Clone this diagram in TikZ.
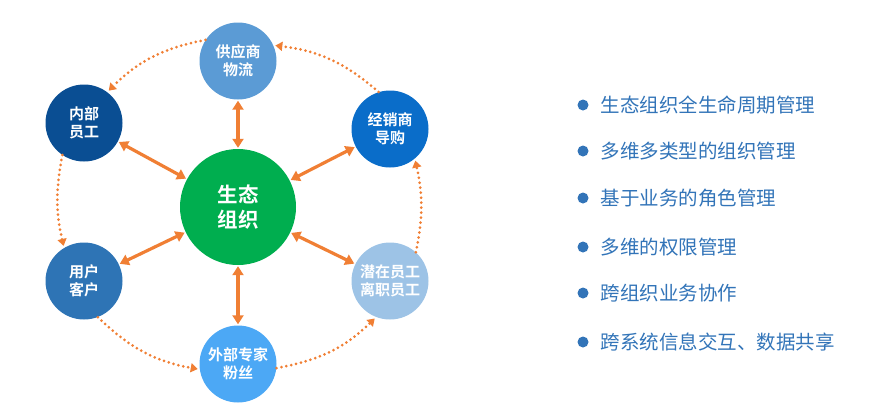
\documentclass[tikz,border=0pt]{standalone}
\usepackage{fontspec}
\setmainfont{Noto Sans CJK SC}[BoldFont={Noto Sans CJK SC Bold}]
\usetikzlibrary{arrows.meta}

\definecolor{hubgreen}{HTML}{00AE4F}
\definecolor{supblue}{HTML}{5B9BD5}
\definecolor{innerblue}{HTML}{0A4E93}
\definecolor{dealerblue}{HTML}{0A6DC9}
\definecolor{userblue}{HTML}{2E74B5}
\definecolor{staffblue}{HTML}{9DC3E6}
\definecolor{expertblue}{HTML}{4CA8F5}
\definecolor{linkorange}{HTML}{F07F34}
\definecolor{itemblue}{HTML}{3274B8}

\tikzset{
  hub/.style={circle, fill=hubgreen, minimum size=116pt, inner sep=0pt, align=center,
    text=white, font=\fontsize{20.5}{25}\selectfont\bfseries},
  member/.style={circle, minimum size=77pt, inner sep=0pt, align=center,
    text=white, font=\fontsize{15}{18}\selectfont\bfseries},
  link/.style={draw=linkorange, line width=3.2pt, shorten <=1pt, shorten >=1pt,
    {Triangle[width=11pt,length=9pt]}-{Triangle[width=11pt,length=9pt]}},
  flow/.style={draw=linkorange, line width=3pt, line cap=round,
    dash pattern=on 0pt off 5pt, shorten >=2pt, -{Triangle[width=9pt,length=7pt]}},
  bulletdot/.style={circle, fill=itemblue, minimum size=11pt, inner sep=0pt},
  item/.style={anchor=west, text=itemblue, font=\fontsize{19.5}{23}\selectfont},
}

\begin{document}
\begin{tikzpicture}[x=1pt, y=-1pt]
\useasboundingbox (0,0) rectangle (891,410);

% Hub and members
\node[hub] (hub) at (238,207) {生态\\组织};
\node[member, fill=supblue] (sup) at (238,61) {供应商\\物流};
\node[member, fill=innerblue] (inner) at (84,123) {内部\\员工};
\node[member, fill=dealerblue] (dealer) at (390,129) {经销商\\导购};
\node[member, fill=userblue] (user) at (84,281) {用户\\客户};
\node[member, fill=staffblue] (staff) at (390,281) {潜在员工\\离职员工};
\node[member, fill=expertblue] (expert) at (238,364) {外部专家\\粉丝};

% Links to the hub
\draw[link] (hub) -- (sup);
\draw[link] (hub) -- (inner);
\draw[link] (hub) -- (dealer);
\draw[link] (hub) -- (user);
\draw[link] (hub) -- (staff);
\draw[link] (hub) -- (expert);

% Ring of dotted arcs
\draw[flow] (sup.147) to[bend right=17] (inner.53);
\draw[flow] (inner.236) to[bend right=12] (user.121);
\draw[flow] (user.291) to[bend right=17] (expert.188);
\draw[flow] (expert.354) to[bend right=17] (staff.249);
\draw[flow] (staff.48) to[bend right=12] (dealer.310);
\draw[flow] (dealer.107) to[bend right=17] (sup.24);

% Feature list
\node[bulletdot] (b1) at (583,105) {};
\node[item] (t1) at (597,105) {生态组织全生命周期管理};
\node[bulletdot] (b2) at (583,151) {};
\node[item] (t2) at (597,151) {多维多类型的组织管理};
\node[bulletdot] (b3) at (583,198) {};
\node[item] (t3) at (597,198) {基于业务的角色管理};
\node[bulletdot] (b4) at (583,247) {};
\node[item] (t4) at (597,247) {多维的权限管理};
\node[bulletdot] (b5) at (583,293) {};
\node[item] (t5) at (597,293) {跨组织业务协作};
\node[bulletdot] (b6) at (583,342) {};
\node[item] (t6) at (597,342) {跨系统信息交互、数据共享};

\end{tikzpicture}
\end{document}
